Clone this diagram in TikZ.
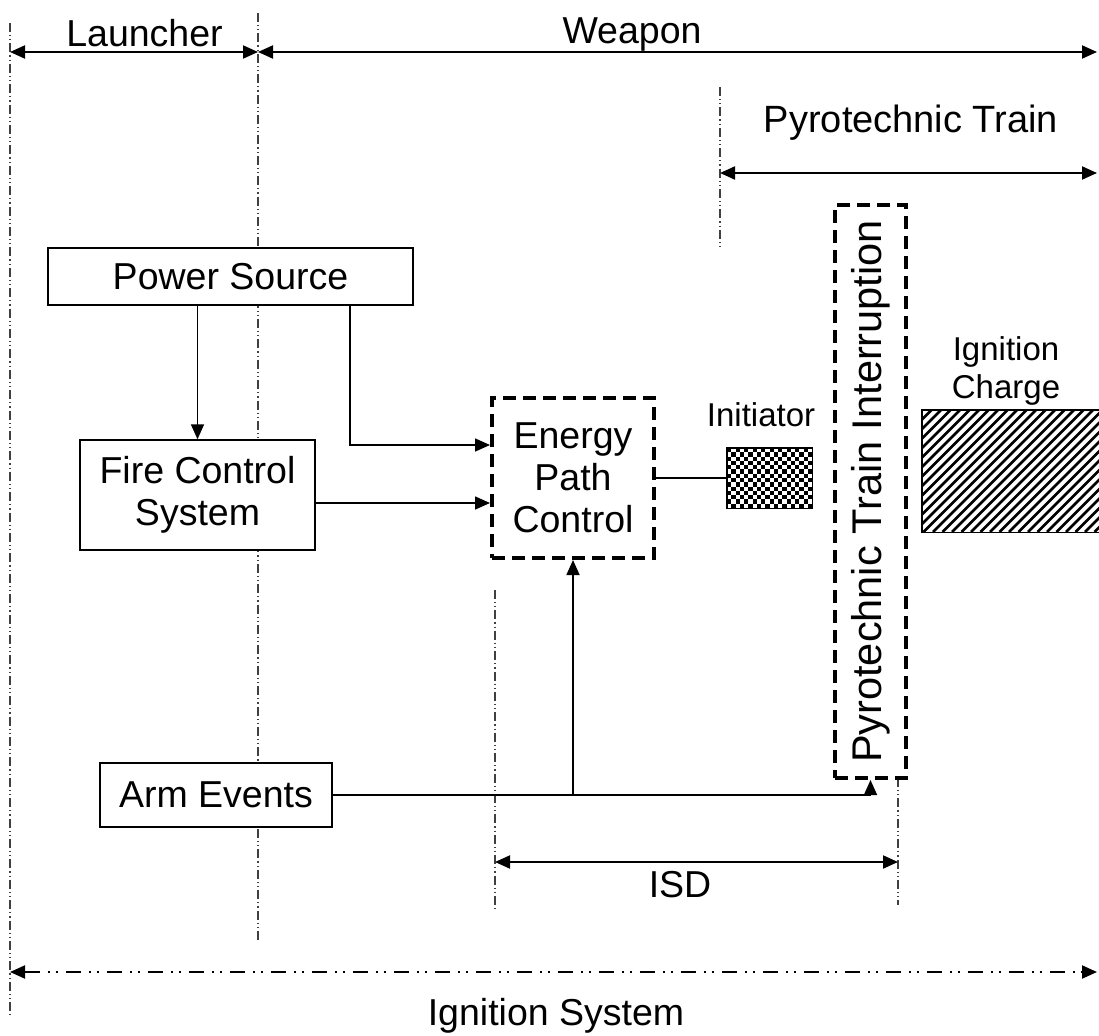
\documentclass[tikz,border=0pt]{standalone}
\usepackage{fontspec}
\setmainfont{Liberation Sans}
\usetikzlibrary{arrows.meta}
\begin{document}
\begin{tikzpicture}[x=1pt,y=-1pt,
  every node/.style={font=\fontsize{37.5}{42}\selectfont},
  small/.style={font=\fontsize{33}{38}\selectfont},
  plain/.style={draw, line width=1.4pt, fill=white, inner sep=0pt, align=center},
  dbox/.style={draw, line width=4pt, dash pattern=on 13pt off 7pt, fill=white, inner sep=0pt, align=center},
  arr/.style={line width=1.6pt, -{Triangle[length=15pt,width=13pt]}},
  dim/.style={line width=2pt, {Triangle[length=15pt,width=13pt]}-{Triangle[length=15pt,width=13pt]}},
  ddot/.style={line width=1.2pt, black!75, dash pattern=on 9pt off 3pt on 1.2pt off 3pt on 1.2pt off 3pt},
  bigdd/.style={line width=2pt, dash pattern=on 15pt off 8pt on 2pt off 6pt on 2pt off 8pt, {Triangle[length=15pt,width=13pt]}-{Triangle[length=15pt,width=13pt]}}
]
\useasboundingbox (0,0) rectangle (1099,1035);

% dash-dot reference lines
\coordinate (l0t) at (10,23);   \coordinate (l0b) at (10,1018);
\coordinate (l1t) at (258,13);  \coordinate (l1b) at (258,940);
\coordinate (l2t) at (720,87);  \coordinate (l2b) at (720,247);
\coordinate (l3t) at (495,590); \coordinate (l3b) at (495,910);
\coordinate (l4t) at (898,778); \coordinate (l4b) at (898,905);
\draw[ddot] (l0t) -- (l0b);
\draw[ddot] (l1t) -- (l1b);
\draw[ddot] (l2t) -- (l2b);
\draw[ddot] (l3t) -- (l3b);
\draw[ddot] (l4t) -- (l4b);

% dimension arrows
\coordinate (la) at (10,52); \coordinate (lb) at (258,52); \coordinate (lc) at (1097,52);
\draw[dim] (la) -- (lb);
\draw[dim] (lb) -- (lc);
\node[anchor=base] (tlaunch) at (144.5,47) {Launcher};
\node[anchor=base] (tweapon) at (632,44) {Weapon};

\coordinate (pa) at (720,173); \coordinate (pb) at (1097,173);
\draw[dim] (pa) -- (pb);
\node[anchor=base, font=\fontsize{38}{42}\selectfont] (tpyro) at (911,133) {Pyrotechnic Train};

\coordinate (ia) at (495,862); \coordinate (ib) at (898,862);
\draw[dim] (ia) -- (ib);
\node[anchor=base] (tisd) at (680,897) {ISD};

\coordinate (sa) at (10,972); \coordinate (sb) at (1097,972);
\draw[bigdd] (sa) -- (sb);
\node[anchor=base] (tign) at (556,1025) {Ignition System};

% boxes
\node[plain, minimum width=365pt, minimum height=57pt] (ps) at (230.5,276.5) {Power Source};
\node[plain, minimum width=235pt, minimum height=110pt] (fcs) at (197.5,495) {Fire Control\\System};
\node[dbox, minimum width=162pt, minimum height=160pt] (epc) at (573,478) {Energy\\Path\\Control};
\node[plain, minimum width=232pt, minimum height=64pt] (ae) at (216,795) {Arm Events};
\node[dbox, minimum width=71pt, minimum height=573pt] (pti) at (870.5,491.5) {};
\node[rotate=90, font=\fontsize{41.5}{44}\selectfont] (ptit) at (pti.center) {Pyrotechnic Train Interruption};

% initiator (checkerboard)
\node[inner sep=0pt, minimum width=85pt, minimum height=60pt, fill=white] (init) at (769.5,478) {};
\foreach \i in {0,...,19} {
  \foreach \j in {0,...,13} {
    \pgfmathtruncatemacro\s{mod(\i+\j,2)}
    \ifnum\s=0
      \fill (727+\i*4.25,448+\j*4.2857) rectangle ++(4.25,4.2857);
    \fi
  }
}
\draw[line width=1.4pt] (init.south west) rectangle (init.north east);
\node[small, anchor=base] (tinit) at (761,426) {Initiator};

% ignition charge (hatched)
\node[inner sep=0pt, minimum width=179pt, minimum height=122pt] (ic) at (1011.5,471) {};
\begin{scope}
  \clip (ic.south west) rectangle (ic.north east);
  \foreach \k in {800,809.5,...,1110} {
    \draw[line width=2.7pt] (\k,532) -- ++(122,-122);
  }
\end{scope}
\draw[line width=1.4pt] (ic.south west) rectangle (ic.north east);
\node[small, anchor=base] (tic1) at (1006,360) {Ignition};
\node[small, anchor=base] (tic2) at (1006,398) {Charge};

% connectors
\draw[arr] (ps.south -| fcs.north) -- (fcs.north);
\coordinate (c1) at (350,445);
\draw[arr] (c1 |- ps.south) -- (c1) -- (c1 -| epc.west);
\coordinate (c2) at (400,503);
\draw[arr] (c2 -| fcs.east) -- (c2 -| epc.west);
\draw[line width=1.4pt] (epc.east) -- (init.west);
\coordinate (j) at (epc.south |- ae.east);
\draw[arr] (ae.east) -- (ae.east -| pti.south) -- (pti.south);
\draw[arr] (j) -- (epc.south);
\end{tikzpicture}
\end{document}
